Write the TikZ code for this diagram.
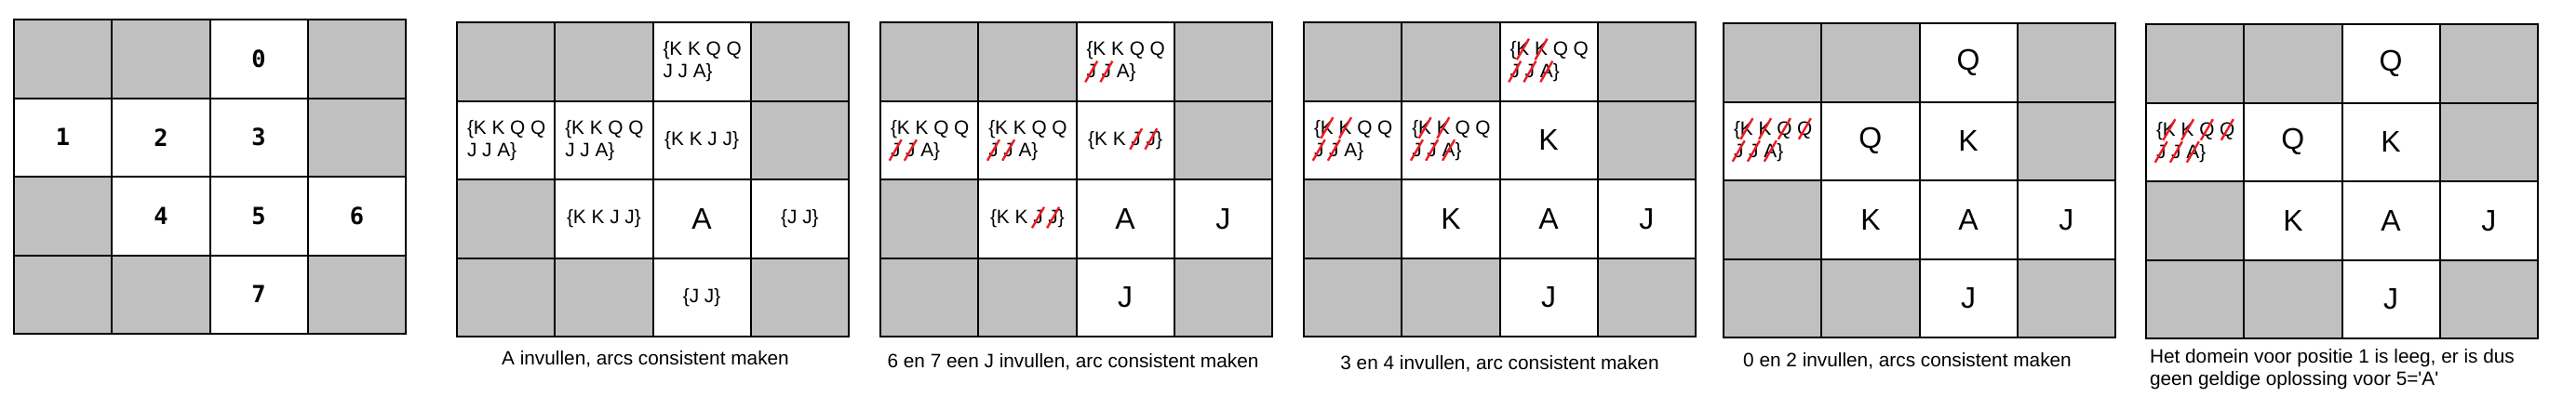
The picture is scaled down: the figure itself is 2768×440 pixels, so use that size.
\documentclass[tikz,border=0pt]{standalone}
\usepackage{fontspec}
\usepackage{graphicx}
\setmainfont{Liberation Sans}
\newfontfamily\cijferfont{DejaVu Sans Mono}
\usetikzlibrary{positioning}

\definecolor{grijs}{RGB}{192,192,192}
\definecolor{rood}{RGB}{237,28,36}

% doorgestreepte waarde in een domein
\newsavebox\wegbox
\newcommand\weg[1]{\sbox\wegbox{#1}\rlap{\usebox\wegbox}\makebox[\wd\wegbox]{\smash{\raisebox{-.25em}{\textcolor{rood}{\rotatebox{60}{\rule{1.25em}{1.8pt}}}}}}}

% rooster van 4 x 4 vakjes, grijze vakjes zijn geen positie
\newcommand\rooster{%
  \foreach \c/\r in {0/0,1/0,3/0,3/1,0/2,0/3,1/3,3/3}
    \fill[grijs] (\c*105.25,\r*84.5) rectangle ++(105.25,84.5);
  \foreach \c in {1,2,3} \draw (\c*105.25,0) -- (\c*105.25,338);
  \foreach \r in {1,2,3} \draw (0,\r*84.5) -- (421,\r*84.5);
  \draw (0,0) rectangle (421,338);
}

\tikzset{every picture/.style={line width=1.5pt}}
\tikzset{
  dom/.style={font=\fontsize{15.6}{18}\selectfont, align=left, inner sep=0pt},
  groot/.style={font=\fontsize{24}{28}\selectfont, inner sep=0pt},
  nummer/.style={font=\cijferfont\bfseries\fontsize{19}{22}\selectfont, inner sep=0pt},
  bijschrift/.style={font=\fontsize{15.6}{18}\selectfont, inner sep=0pt, align=left}
}

\begin{document}
\begin{tikzpicture}[x=0.75pt,y=0.75pt,yscale=-1,xscale=1]
\useasboundingbox (0,0) rectangle (2768,440);

%Shape: Grid 1 (posities)
\begin{scope}[shift={(15,21)}]
\rooster
% Text Node
\draw (263.1,42.25) node (b1p0) [nummer] {0};
\draw (52.6,126.75) node (b1p1) [nummer] {1};
\draw (157.9,126.75) node (b1p2) [nummer] {2};
\draw (263.1,126.75) node (b1p3) [nummer] {3};
\draw (157.9,211.25) node (b1p4) [nummer] {4};
\draw (263.1,211.25) node (b1p5) [nummer] {5};
\draw (368.4,211.25) node (b1p6) [nummer] {6};
\draw (263.1,295.75) node (b1p7) [nummer] {7};
\end{scope}

%Shape: Grid 2
\begin{scope}[shift={(491,24)}]
\rooster
% Text Node
\draw (220.5,42.25) node (b2p0) [dom, anchor=west] {\{K K Q Q\\J J A\}};
\draw (10,126.75) node (b2p1) [dom, anchor=west] {\{K K Q Q\\J J A\}};
\draw (115.25,126.75) node (b2p2) [dom, anchor=west] {\{K K Q Q\\J J A\}};
\draw (263.1,126.75) node (b2p3) [dom] {\{K K J J\}};
\draw (157.9,211.25) node (b2p4) [dom] {\{K K J J\}};
\draw (263.1,211.25) node (b2p5) [groot] {A};
\draw (368.4,211.25) node (b2p6) [dom] {\{J J\}};
\draw (263.1,295.75) node (b2p7) [dom] {\{J J\}};
% Text Node
\draw (202.5,368) node (b2tekst) [bijschrift, anchor=base] {A invullen, arcs consistent maken};
\end{scope}

%Shape: Grid 3
\begin{scope}[shift={(946,24)}]
\rooster
% Text Node
\draw (220.5,42.25) node (b3p0) [dom, anchor=west] {\{K K Q Q\\\weg{J} \weg{J} A\}};
\draw (10,126.75) node (b3p1) [dom, anchor=west] {\{K K Q Q\\\weg{J} \weg{J} A\}};
\draw (115.25,126.75) node (b3p2) [dom, anchor=west] {\{K K Q Q\\\weg{J} \weg{J} A\}};
\draw (263.1,126.75) node (b3p3) [dom] {\{K K \weg{J} \weg{J}\}};
\draw (157.9,211.25) node (b3p4) [dom] {\{K K \weg{J} \weg{J}\}};
\draw (263.1,211.25) node (b3p5) [groot] {A};
\draw (368.4,211.25) node (b3p6) [groot] {J};
\draw (263.1,295.75) node (b3p7) [groot] {J};
% Text Node
\draw (207,371) node (b3tekst) [bijschrift, anchor=base] {6 en 7 een J invullen, arc consistent maken};
\end{scope}

%Shape: Grid 4
\begin{scope}[shift={(1401,24)}]
\rooster
% Text Node
\draw (220.5,42.25) node (b4p0) [dom, anchor=west] {\{\weg{K} \weg{K} Q Q\\\weg{J} \weg{J} \weg{A}\}};
\draw (10,126.75) node (b4p1) [dom, anchor=west] {\{\weg{K} \weg{K} Q Q\\\weg{J} \weg{J} A\}};
\draw (115.25,126.75) node (b4p2) [dom, anchor=west] {\{\weg{K} \weg{K} Q Q\\\weg{J} \weg{J} \weg{A}\}};
\draw (263.1,126.75) node (b4p3) [groot] {K};
\draw (157.9,211.25) node (b4p4) [groot] {K};
\draw (263.1,211.25) node (b4p5) [groot] {A};
\draw (368.4,211.25) node (b4p6) [groot] {J};
\draw (263.1,295.75) node (b4p7) [groot] {J};
% Text Node
\draw (210.5,373) node (b4tekst) [bijschrift, anchor=base] {3 en 4 invullen, arc consistent maken};
\end{scope}

%Shape: Grid 5
\begin{scope}[shift={(1852,25)}]
\rooster
% Text Node
\draw (263.1,42.25) node (b5p0) [groot] {Q};
\draw (10,126.75) node (b5p1) [dom, anchor=west] {\{\weg{K} \weg{K} \weg{Q} \weg{Q}\\\weg{J} \weg{J} \weg{A}\}};
\draw (157.9,126.75) node (b5p2) [groot] {Q};
\draw (263.1,126.75) node (b5p3) [groot] {K};
\draw (157.9,211.25) node (b5p4) [groot] {K};
\draw (263.1,211.25) node (b5p5) [groot] {A};
\draw (368.4,211.25) node (b5p6) [groot] {J};
\draw (263.1,295.75) node (b5p7) [groot] {J};
% Text Node
\draw (197.5,369) node (b5tekst) [bijschrift, anchor=base] {0 en 2 invullen, arcs consistent maken};
\end{scope}

%Shape: Grid 6
\begin{scope}[shift={(2306,26)}]
\rooster
% Text Node
\draw (263.1,42.25) node (b6p0) [groot] {Q};
\draw (10,126.75) node (b6p1) [dom, anchor=west] {\{\weg{K} \weg{K} \weg{Q} \weg{Q}\\\weg{J} \weg{J} \weg{A}\}};
\draw (157.9,126.75) node (b6p2) [groot] {Q};
\draw (263.1,126.75) node (b6p3) [groot] {K};
\draw (157.9,211.25) node (b6p4) [groot] {K};
\draw (263.1,211.25) node (b6p5) [groot] {A};
\draw (368.4,211.25) node (b6p6) [groot] {J};
\draw (263.1,295.75) node (b6p7) [groot] {J};
% Text Node
\draw (3,348) node (b6tekst) [bijschrift, anchor=north west] {Het domein voor positie 1 is leeg, er is dus\\geen geldige oplossing voor 5=\textquotesingle A\textquotesingle};
\end{scope}

\end{tikzpicture}
\end{document}
